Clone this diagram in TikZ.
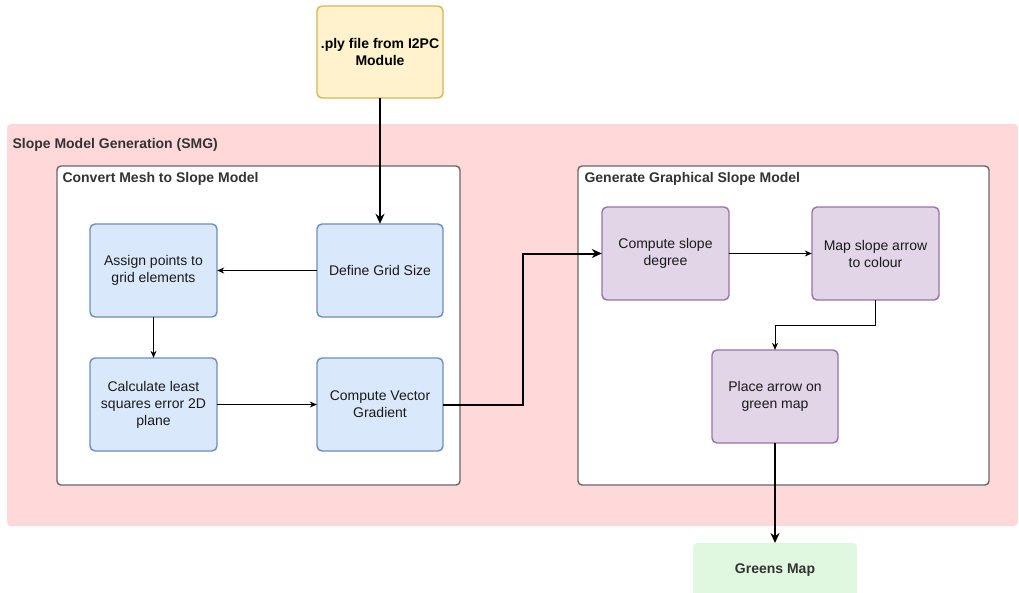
\documentclass[tikz,border=0pt]{standalone}
\usepackage{fontspec}
\setmainfont{Liberation Sans}
\usetikzlibrary{arrows.meta}
\definecolor{pinkbg}{RGB}{255,217,217}
\definecolor{yfill}{RGB}{255,242,204}
\definecolor{ystroke}{RGB}{214,182,86}
\definecolor{bfill}{RGB}{218,232,252}
\definecolor{bstroke}{RGB}{108,142,191}
\definecolor{pfill}{RGB}{225,213,231}
\definecolor{pstroke}{RGB}{150,115,166}
\definecolor{gfill}{RGB}{225,248,224}
\definecolor{ctstroke}{RGB}{102,102,102}
\definecolor{darktext}{RGB}{51,51,51}
\definecolor{boxtext}{RGB}{26,26,26}
\tikzset{
  x=1pt, y=-1pt,
  txt/.style={font=\fontsize{14}{17}\selectfont, align=center, text=boxtext},
  bluebox/.style={draw=bstroke, fill=bfill, line width=1.4pt, rounded corners=5pt},
  purplebox/.style={draw=pstroke, fill=pfill, line width=1.4pt, rounded corners=5pt},
  container/.style={draw=ctstroke, fill=white, line width=1.4pt, rounded corners=4pt},
  title/.style={font=\fontsize{14}{16}\selectfont\bfseries, text=darktext, anchor=west},
  thin/.style={draw=black, line width=0.8pt, -{Stealth[length=7pt,width=6pt]}},
  thick/.style={draw=black, line width=2pt, -{Stealth[length=10pt,width=9pt]}},
}
\begin{document}
\begin{tikzpicture}
\useasboundingbox (0,0) rectangle (1019,592);
\fill[white] (0,0) rectangle (1019,592);
% yellow source
\draw[draw=ystroke, fill=yfill, line width=1.4pt, rounded corners=5pt] (317,6) rectangle (443,98);
\node[txt, text=black, font=\fontsize{14}{17}\selectfont\bfseries] (ply) at (380,52) {.ply file from I2PC\\Module};
\coordinate (plyS) at (380,98);
% pink region
\fill[pinkbg, rounded corners=4pt] (7,124) rectangle (1018,526);
\node[title] (smg) at (9,145) {Slope Model Generation (SMG)};
% containers
\draw[container] (57,166) rectangle (460,485);
\node[title] (cm) at (59,179) {Convert Mesh to Slope Model};
\draw[container] (578,166) rectangle (989,485);
\node[title] (gg) at (581,179) {Generate Graphical Slope Model};
% blue boxes
\draw[bluebox] (90,224) rectangle (217,317);
\node[txt, minimum width=127pt, minimum height=93pt] (assign) at (153.5,270.5) {Assign points to\\grid elements};
\draw[bluebox] (317,224) rectangle (443,317);
\node[txt, minimum width=126pt, minimum height=93pt] (grid) at (380,270.5) {Define Grid Size};
\draw[bluebox] (90,358) rectangle (217,451);
\node[txt, minimum width=127pt, minimum height=93pt] (calc) at (153.5,404.5) {Calculate least\\squares error 2D\\plane};
\draw[bluebox] (317,358) rectangle (443,451);
\node[txt, minimum width=126pt, minimum height=93pt] (vec) at (380,404.5) {Compute Vector\\Gradient};
% purple boxes
\draw[purplebox] (602,207) rectangle (729,300);
\node[txt, minimum width=127pt, minimum height=93pt] (deg) at (665.5,253.5) {Compute slope\\degree};
\draw[purplebox] (812,207) rectangle (939,300);
\node[txt, minimum width=127pt, minimum height=93pt] (col) at (875.5,253.5) {Map slope arrow\\to colour};
\draw[purplebox] (712,350) rectangle (838,443);
\node[txt, minimum width=126pt, minimum height=93pt] (place) at (775,396.5) {Place arrow on\\green map};
% green output
\fill[gfill, rounded corners=4pt] (693,543) rectangle (857,600);
\node[font=\fontsize{14}{16}\selectfont\bfseries, text=darktext, minimum width=164pt] (greens) at (775,570) {Greens Map};
\coordinate (greensN) at (775,543);
% connectors
\draw[thick] (plyS) -- (grid.north);
\draw[thin] (grid.west) -- (assign.east);
\draw[thin] (assign.south) -- (calc.north);
\draw[thin] (calc.east) -- (vec.west);
\draw[thick] (vec.east) -- (523,404.5) -- (523,253.5) -- (deg.west);
\draw[thin] (deg.east) -- (col.west);
\draw[thin] (col.south) -- (875.5,325) -- (775,325) -- (place.north);
\draw[thick] (place.south) -- (greensN);
\end{tikzpicture}
\end{document}
